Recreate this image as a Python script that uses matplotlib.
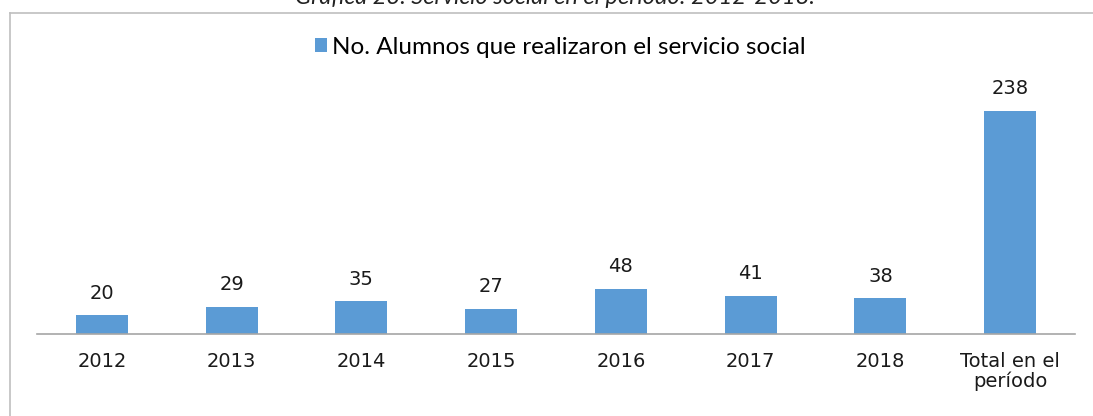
import matplotlib.pyplot as plt

categories = ['2012', '2013', '2014', '2015', '2016', '2017', '2018', 'Total en el\nperíodo']
alumnos = [20, 29, 35, 27, 48, 41, 38, 238]

plt.rcParams['font.family'] = ['DejaVu Sans']

W, H = 1093, 416
fig = plt.figure(figsize=(W / 100, H / 100), dpi=100)
ax = fig.add_axes([37 / W, 1 - 334 / H, (1075 - 37) / W, (334 - 13) / H])

bar_color = '#5B9BD5'
x = range(len(categories))
bars = ax.bar(x, alumnos, width=0.4, color=bar_color,
              label='No. Alumnos que realizaron el servicio social')

for b, v in zip(bars, alumnos):
    ax.annotate(str(v), (b.get_x() + b.get_width() / 2, v), xytext=(0, 9),
                textcoords='offset points', ha='center', va='bottom',
                fontsize=14, color='#1a1a1a')

ax.set_xlim(-0.5, len(categories) - 0.5)
ax.set_ylim(0, 342)
ax.set_xticks(list(x))
ax.set_xticklabels(categories, fontsize=14, color='#1a1a1a', linespacing=1.0)
ax.tick_params(axis='x', length=0, pad=13)
ax.set_yticks([])
for s in ['top', 'right', 'left']:
    ax.spines[s].set_visible(False)
ax.spines['bottom'].set_color('#A6A6A6')
ax.spines['bottom'].set_linewidth(1.2)

leg = ax.legend(loc='center', bbox_to_anchor=(560 / W, 1 - 47 / H),
                bbox_transform=fig.transFigure, frameon=False,
                prop={'family': 'Lato', 'size': 17.5}, handlelength=0.5,
                handleheight=0.55, handletextpad=0.2)

# outer chart frame (only left and top edges visible)
fig.add_artist(plt.Line2D([10 / W, 10 / W], [0, 1 - 13 / H], color='#BFBFBF',
                          lw=1.2, transform=fig.transFigure))
fig.add_artist(plt.Line2D([10 / W, 1], [1 - 13 / H, 1 - 13 / H], color='#BFBFBF',
                          lw=1.2, transform=fig.transFigure))

fig.text(555 / W, 1 - 4 / H, 'Gráfica 23. Servicio social en el periodo: 2012-2018.',
         ha='center', va='baseline', fontsize=17, style='italic', color='#222222',
         family='Lato')

fig.savefig('out.png', dpi=100)
